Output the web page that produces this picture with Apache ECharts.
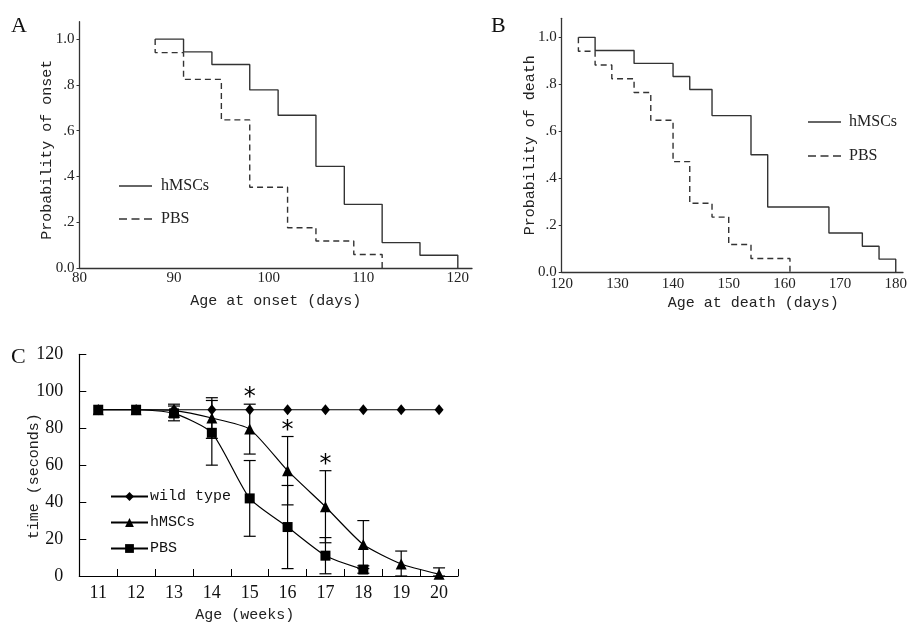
<!DOCTYPE html>
<html><head><meta charset="utf-8">
<script src="https://cdn.jsdelivr.net/npm/echarts@6.0.0/dist/echarts.min.js"></script>
<style>html,body{margin:0;padding:0;background:#fff}#c{width:910px;height:625px}</style>
</head><body><div id="c"></div><script>
// ---- Panel A: age at onset (Kaplan-Meier steps) ----
const onsetHmscsDays = [88, 91, 94, 98, 101, 105, 108, 112, 116, 120];
const onsetHmscsProb = [1.0, 0.944, 0.889, 0.778, 0.667, 0.444, 0.278, 0.111, 0.056, 0];
const onsetPbsDays = [88, 88, 91, 95, 98, 102, 105, 109, 112];
const onsetPbsProb = [1.0, 0.941, 0.824, 0.647, 0.353, 0.176, 0.118, 0.059, 0];
// ---- Panel B: age at death ----
const deathHmscsDays = [123, 126, 133, 140, 143, 147, 154, 157, 168, 174, 177, 180];
const deathHmscsProb = [1.0, 0.944, 0.889, 0.833, 0.778, 0.667, 0.5, 0.278, 0.167, 0.111, 0.056, 0];
const deathPbsDays = [123, 123, 126, 129, 133, 136, 140, 143, 147, 150, 154, 161];
const deathPbsProb = [1.0, 0.941, 0.882, 0.824, 0.765, 0.647, 0.471, 0.294, 0.235, 0.118, 0.059, 0];
// ---- Panel C: rotarod time ----
const weeks = ['11', '12', '13', '14', '15', '16', '17', '18', '19', '20'];
const wildType = [90, 90, 90, 90, 90, 90, 90, 90, 90, 90];
const hmscsTime = [90, 90, 89.5, 85.5, 79.5, 57, 37.5, 17, 6.5, 1];
const hmscsSd = [0, 0, 3.5, 11, 13.5, 18.5, 19.5, 13, 7, 3.4];
const pbsTime = [90, 90, 88, 77.5, 42, 26.5, 11, 3.5, null, null];
const pbsSd = [0, 0, 4, 17.5, 20.5, 22.5, 9.8, 2, null, null];
const sigWeeks = ['15', '16', '17'];
// ---- tick labels ----
const probTickValues = [0, 0.2, 0.4, 0.6, 0.8, 1.0];
const probTickLabels = ['0.0', '.2', '.4', '.6', '.8', '1.0'];

const zip = (xs, ys) => xs.map((x, i) => [x, ys[i]]);
const probFmt = v => { const i = Math.round(v * 5); return (Math.abs(v - probTickValues[i]) < 1e-6) ? probTickLabels[i] : ''; };
const legendFmt = n => n.replace(/ [ABC]$/, '');
const GRAY = '#333';
const tickFont = { fontFamily: 'Liberation Serif', fontSize: 15, color: '#222' };
const titleFont = { fontFamily: 'Liberation Mono', fontSize: 15, color: '#222' };
const SOLID_ICON = 'path://M0,0H33V1.3H0Z';
const DASH_ICON = 'path://M0,0H8V1.3H0Z M12.5,0H20.5V1.3H12.5Z M25,0H33V1.3H25Z';

function errData(mean, sd) {
  const out = [];
  mean.forEach((m, i) => { if (m != null && sd[i]) out.push([i, Math.max(0, m - sd[i]), m + sd[i]]); });
  return out;
}
function errRender(params, api) {
  const x = api.value(0);
  const lo = api.coord([x, api.value(1)]);
  const hi = api.coord([x, api.value(2)]);
  const w = 6;
  const st = { stroke: '#000', lineWidth: 1.2 };
  return { type: 'group', children: [
    { type: 'line', shape: { x1: lo[0], y1: lo[1], x2: hi[0], y2: hi[1] }, style: st },
    { type: 'line', shape: { x1: lo[0] - w, y1: lo[1], x2: lo[0] + w, y2: lo[1] }, style: st },
    { type: 'line', shape: { x1: hi[0] - w, y1: hi[1], x2: hi[0] + w, y2: hi[1] }, style: st }
  ]};
}

const probAxis = (grid, max, gap) => ({
  type: 'value', gridIndex: grid, min: 0, max: max, interval: 0.2,
  axisLine: { show: true, lineStyle: { color: GRAY, width: 1.3 } },
  axisTick: { show: true, length: 3, lineStyle: { color: GRAY } },
  splitLine: { show: false },
  axisLabel: Object.assign({ margin: 5, formatter: probFmt, showMaxLabel: false }, tickFont),
  nameLocation: 'middle', nameGap: gap, nameMoveOverlap: false, nameTextStyle: Object.assign({}, titleFont)
});

const option = {
  animation: false,
  backgroundColor: '#fff',
  grid: [
    { left: 79.5, top: 21.7, width: 392.5, height: 246.3 },
    { left: 561.7, top: 18.3, width: 348.3, height: 254 },
    { left: 79.3, top: 354.3, width: 378.7, height: 221.7 }
  ],
  xAxis: [
    { type: 'value', gridIndex: 0, min: 80, max: 121.5, interval: 10,
      axisLine: { lineStyle: { color: GRAY, width: 1.3 } }, axisTick: { show: false }, splitLine: { show: false },
      axisLabel: Object.assign({ margin: 3, showMaxLabel: false }, tickFont),
      name: 'Age at onset (days)', nameLocation: 'middle', nameGap: 26, nameMoveOverlap: false,
      nameTextStyle: Object.assign({}, titleFont) },
    { type: 'value', gridIndex: 1, min: 120, max: 181.3, interval: 10,
      axisLine: { lineStyle: { color: GRAY, width: 1.3 } }, axisTick: { show: false }, splitLine: { show: false },
      axisLabel: Object.assign({ margin: 4, showMaxLabel: false }, tickFont),
      name: 'Age at death (days)', nameLocation: 'middle', nameGap: 23, nameMoveOverlap: false,
      nameTextStyle: Object.assign({ padding: [0, 0, 0, 42] }, titleFont) },
    { type: 'category', gridIndex: 2, data: weeks, boundaryGap: true,
      axisLine: { lineStyle: { color: '#000', width: 1.2 } },
      axisTick: { show: true, inside: true, length: 7, lineStyle: { color: '#000' } },
      axisLabel: { margin: 8, fontFamily: 'Liberation Serif', fontSize: 18, color: '#111' },
      name: 'Age (weeks)', nameLocation: 'middle', nameGap: 32, nameMoveOverlap: false,
      nameTextStyle: Object.assign({ padding: [0, 48, 0, 0] }, titleFont) }
  ],
  yAxis: [
    Object.assign(probAxis(0, 1.076, 25), { name: 'Probability of onset', nameTextStyle: Object.assign({ padding: [0, 10, 0, 0] }, titleFont) }),
    Object.assign(probAxis(1, 1.081, 24), { name: 'Probability of death' }),
    { type: 'value', gridIndex: 2, min: 0, max: 120, interval: 20,
      axisLine: { show: true, lineStyle: { color: '#000', width: 1.2 } },
      axisTick: { show: true, inside: true, length: 7, lineStyle: { color: '#000' } },
      splitLine: { show: false },
      axisLabel: { margin: 16, fontFamily: 'Liberation Serif', fontSize: 18, color: '#111' },
      name: 'time (seconds)', nameLocation: 'middle', nameGap: 38, nameMoveOverlap: false,
      nameTextStyle: Object.assign({ padding: [0, 22, 0, 0] }, titleFont) }
  ],
  legend: [
    { data: [{ name: 'hMSCs A', icon: SOLID_ICON }, { name: 'PBS A', icon: DASH_ICON }],
      orient: 'vertical', left: 114, top: 173, padding: 5, itemWidth: 33, itemHeight: 1.3, itemGap: 17,
      selectedMode: false, formatter: legendFmt,
      textStyle: { fontFamily: 'Liberation Serif', fontSize: 16, color: '#222', padding: [0, 0, 0, 4] } },
    { data: [{ name: 'hMSCs B', icon: SOLID_ICON }, { name: 'PBS B', icon: DASH_ICON }],
      orient: 'vertical', left: 803, top: 109, padding: 5, itemWidth: 33, itemHeight: 1.3, itemGap: 18,
      selectedMode: false, formatter: legendFmt,
      textStyle: { fontFamily: 'Liberation Serif', fontSize: 16, color: '#222', padding: [0, 0, 0, 3] } },
    { data: ['wild type C', 'hMSCs C', 'PBS C'],
      orient: 'vertical', left: 105, top: 484, padding: 5, itemWidth: 37, itemHeight: 11, itemGap: 11,
      selectedMode: false, formatter: legendFmt,
      textStyle: { fontFamily: 'Liberation Mono', fontSize: 15, color: '#111', padding: [0, 0, 0, -3] } }
  ],
  graphic: [
    { type: 'text', left: 11, top: 15, style: { text: 'A', font: '22px "Liberation Serif"', fill: '#111' } },
    { type: 'text', left: 491, top: 15, style: { text: 'B', font: '22px "Liberation Serif"', fill: '#111' } },
    { type: 'text', left: 11, top: 346, style: { text: 'C', font: '22px "Liberation Serif"', fill: '#111' } }
  ],
  series: [
    { name: 'hMSCs A', type: 'line', xAxisIndex: 0, yAxisIndex: 0, step: 'end', symbol: 'none',
      data: zip(onsetHmscsDays, onsetHmscsProb), lineStyle: { color: GRAY, width: 1.4 }, itemStyle: { color: GRAY } },
    { name: 'PBS A', type: 'line', xAxisIndex: 0, yAxisIndex: 0, step: 'end', symbol: 'none',
      data: zip(onsetPbsDays, onsetPbsProb), lineStyle: { color: GRAY, width: 1.4, type: [6, 4] }, itemStyle: { color: GRAY } },
    { name: 'hMSCs B', type: 'line', xAxisIndex: 1, yAxisIndex: 1, step: 'end', symbol: 'none',
      data: zip(deathHmscsDays, deathHmscsProb), lineStyle: { color: GRAY, width: 1.4 }, itemStyle: { color: GRAY } },
    { name: 'PBS B', type: 'line', xAxisIndex: 1, yAxisIndex: 1, step: 'end', symbol: 'none',
      data: zip(deathPbsDays, deathPbsProb), lineStyle: { color: GRAY, width: 1.4, type: [6, 4] }, itemStyle: { color: GRAY } },
    { name: 'err hMSCs', type: 'custom', xAxisIndex: 2, yAxisIndex: 2, data: errData(hmscsTime, hmscsSd),
      renderItem: errRender, encode: { x: 0, y: [1, 2] }, z: 1 },
    { name: 'err PBS', type: 'custom', xAxisIndex: 2, yAxisIndex: 2, data: errData(pbsTime, pbsSd),
      renderItem: errRender, encode: { x: 0, y: [1, 2] }, z: 1 },
    { name: 'wild type C', type: 'line', xAxisIndex: 2, yAxisIndex: 2, data: wildType,
      symbol: 'diamond', symbolSize: [9, 11], lineStyle: { color: '#000', width: 1.2 }, itemStyle: { color: '#000' }, z: 3 },
    { name: 'hMSCs C', type: 'line', xAxisIndex: 2, yAxisIndex: 2, data: hmscsTime, smooth: 0.2,
      symbol: 'triangle', symbolSize: 11, lineStyle: { color: '#000', width: 1.2 }, itemStyle: { color: '#000' }, z: 3 },
    { name: 'PBS C', type: 'line', xAxisIndex: 2, yAxisIndex: 2, data: pbsTime, smooth: 0.2,
      symbol: 'rect', symbolSize: 10, lineStyle: { color: '#000', width: 1.2 }, itemStyle: { color: '#000' }, z: 4 },
    { name: 'significance', type: 'custom', xAxisIndex: 2, yAxisIndex: 2,
      data: sigWeeks.map(w => { const i = weeks.indexOf(w); return [i, hmscsTime[i] + hmscsSd[i]]; }),
      encode: { x: 0, y: 1 },
      renderItem: (p, api) => {
        const pt = api.coord([api.value(0), api.value(1)]);
        return { type: 'text', x: pt[0], y: pt[1] - 6,
          style: { text: '*', font: '24px "DejaVu Sans"', fill: '#000', align: 'center', verticalAlign: 'middle' } };
      }, z: 5 }
  ]
};
echarts.init(document.getElementById('c'), null, { renderer: 'canvas' }).setOption(option);
</script></body></html>
